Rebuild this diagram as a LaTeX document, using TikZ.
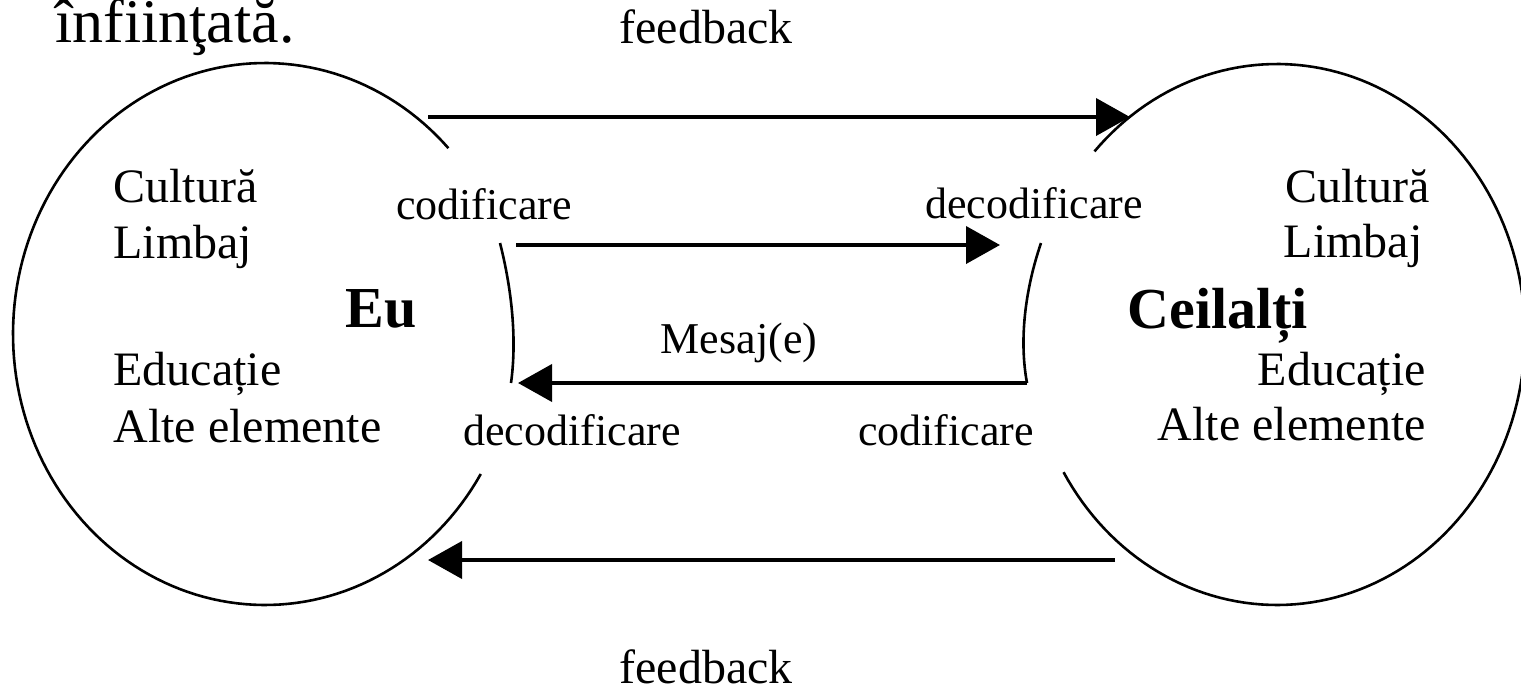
\documentclass[tikz,border=0pt]{standalone}
\usepackage{fontspec}
\setmainfont{Liberation Serif}
\usetikzlibrary{arrows.meta}
\begin{document}
\begin{tikzpicture}[x=0.5pt,y=-0.5pt,
  lbl/.style={font=\fontsize{24pt}{28pt}\selectfont, inner sep=0pt},
  midlbl/.style={font=\fontsize{22pt}{26pt}\selectfont, inner sep=0pt},
  biglbl/.style={font=\fontsize{29pt}{34pt}\selectfont\bfseries, inner sep=0pt},
  ring/.style={line width=1.3pt},
  flow/.style={line width=2pt, -{Triangle[length=17pt,width=18.5pt]}},
  bracket/.style={line width=1.3pt}]
\useasboundingbox (0,0) rectangle (1521,686);

% heading fragment
\node[anchor=base west, inner sep=0pt, font=\fontsize{31pt}{36pt}\selectfont] (head) at (55,42) {înfiinţată.};

% the two circles (open arcs)
\draw[ring] plot[domain=-328.9:-43.3, samples=150] ({265+252*cos(\x)},{334+271*sin(\x)});
\draw[ring] plot[domain=-137.4:149.4, samples=150] ({1277+248*cos(\x)},{334.5+270.5*sin(\x)});

% inner brackets
\coordinate (lbTop) at (500,243);
\coordinate (lbBot) at (511,383);
\coordinate (rbTop) at (1041,243);
\coordinate (rbBot) at (1027,383);
\draw[bracket] (lbTop) .. controls (512,290) and (517,340) .. (lbBot);
\draw[bracket] (rbTop) .. controls (1025,290) and (1019,340) .. (rbBot);

% arrows
\coordinate (fbTopA) at (428,117);
\coordinate (fbTopB) at (1130,117);
\coordinate (mTopA) at (516,245);
\coordinate (mTopB) at (1000,245);
\coordinate (mBotB) at (518,383);
\coordinate (fbBotA) at (1115,560);
\coordinate (fbBotB) at (428,560);
\draw[flow] (fbTopA) -- (fbTopB);
\draw[flow] (mTopA) -- (mTopB);
\draw[flow] (rbBot) -- (mBotB);
\draw[flow] (fbBotA) -- (fbBotB);

% feedback labels
\node[lbl, anchor=base] (fbTop) at (706,43) {feedback};
\node[lbl, anchor=base] (fbBot) at (706,683) {feedback};

% left circle texts
\node[lbl, anchor=base west] (lCult) at (113,202) {Cultură};
\node[lbl, anchor=base west] (lLimb) at (113,258) {Limbaj};
\node[biglbl, anchor=base west] (eu) at (345,327) {Eu};
\node[lbl, anchor=base west] (lEduc) at (113,385) {Educație};
\node[lbl, anchor=base west] (lAlte) at (113,442) {Alte elemente};

% right circle texts
\node[lbl, anchor=base east] (rCult) at (1430,202) {Cultură};
\node[lbl, anchor=base east] (rLimb) at (1423,257) {Limbaj};
\node[biglbl, anchor=base west] (ceil) at (1127,328) {Ceilalți};
\node[lbl, anchor=base east] (rEduc) at (1426,385) {Educație};
\node[lbl, anchor=base east] (rAlte) at (1426,440) {Alte elemente};

% middle texts
\node[midlbl, anchor=base] (cod1) at (484,219) {codificare};
\node[midlbl, anchor=base] (dec1) at (1034,218) {decodificare};
\node[midlbl, anchor=base] (mesaj) at (739,353) {Mesaj(e)};
\node[midlbl, anchor=base] (dec2) at (572,445) {decodificare};
\node[midlbl, anchor=base] (cod2) at (946,445) {codificare};
\end{tikzpicture}
\end{document}
